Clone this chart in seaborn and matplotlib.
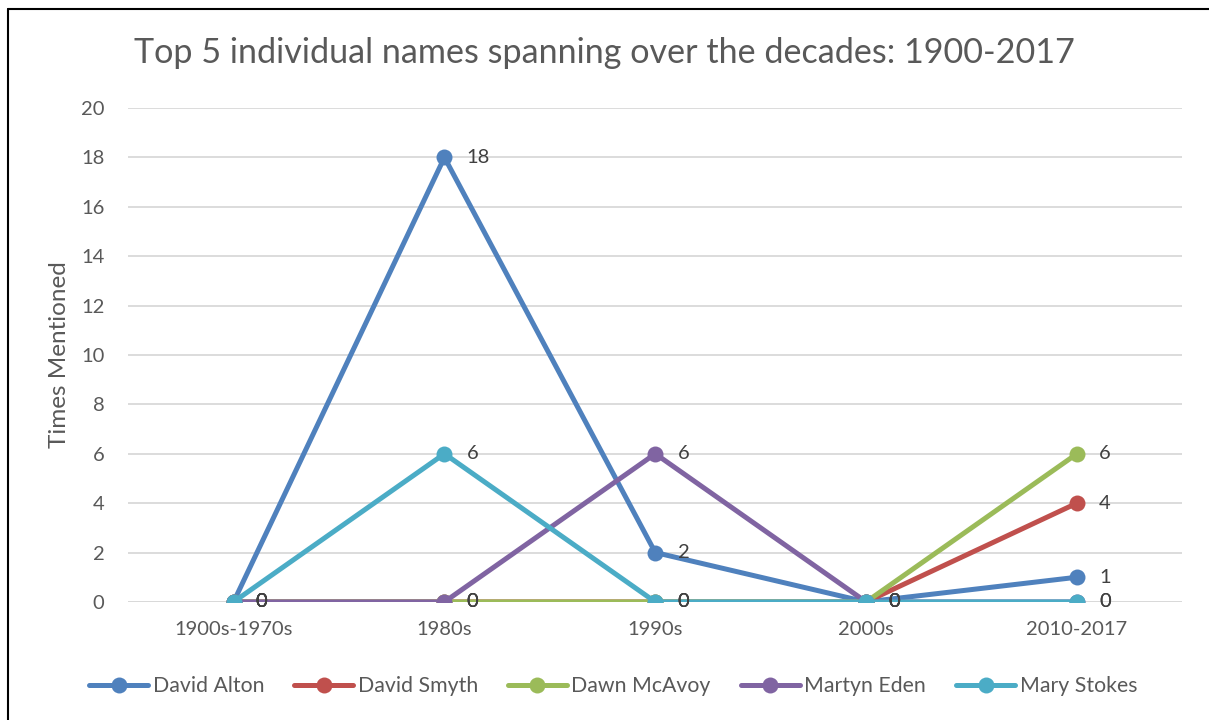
import pandas as pd
import seaborn as sns
import matplotlib.pyplot as plt
from matplotlib.lines import Line2D

# Chart data
decades = ['1900s-1970s', '1980s', '1990s', '2000s', '2010-2017']
names = ['David Alton', 'David Smyth', 'Dawn McAvoy', 'Martyn Eden', 'Mary Stokes']
david_alton = [0, 18, 2, 0, 1]
david_smyth = [0, 0, 0, 0, 4]
dawn_mcavoy = [0, 0, 0, 0, 6]
martyn_eden = [0, 0, 6, 0, 0]
mary_stokes = [0, 6, 0, 0, 0]

colors = ['#4F81BD', '#C0504D', '#9BBB59', '#8064A2', '#4BACC6']
text_grey = '#595959'

series = [david_alton, david_smyth, dawn_mcavoy, martyn_eden, mary_stokes]
rows = []
for name, vals in zip(names, series):
    for dec, v in zip(decades, vals):
        rows.append({'Decade': dec, 'Name': name, 'Times Mentioned': v})
df = pd.DataFrame(rows)

sns.set_style('white')
plt.rcParams['font.family'] = ['Lato', 'DejaVu Sans']

fig = plt.figure(figsize=(12.09, 7.2), dpi=100)
ax = fig.add_axes([0.106, 0.164, 0.872, 0.686])

lw = 3.6
ms = 11.5
sns.lineplot(data=df, x='Decade', y='Times Mentioned', hue='Name',
             hue_order=names, palette=colors, sort=False,
             marker='o', markersize=ms, markeredgewidth=0,
             linewidth=lw, legend=False, ax=ax)

# data labels
for name, vals in zip(names, series):
    for i, v in enumerate(vals):
        ax.annotate(str(v), (i, v), xytext=(16, 0), textcoords='offset points',
                    va='center', ha='left', fontsize=14.5, color='#404040')

ax.set_xlim(-0.5, len(decades) - 0.5)
ax.set_ylim(0, 20)
ax.set_yticks(range(0, 21, 2))
ax.yaxis.grid(True, color='#D9D9D9', linewidth=1.3)
ax.set_axisbelow(True)
for s in ax.spines.values():
    s.set_visible(False)
ax.axhline(0, color='#D9D9D9', linewidth=1.3, zorder=0)
ax.tick_params(axis='both', length=0, labelsize=14.5, labelcolor=text_grey)
ax.tick_params(axis='y', pad=17)
ax.tick_params(axis='x', pad=14)
ax.set_xlabel('')
ax.set_ylabel('Times Mentioned', fontsize=17.5, color=text_grey, labelpad=8)

fig.text(0.5, 0.927, 'Top 5 individual names spanning over the decades: 1900-2017',
         ha='center', va='center', fontsize=24.6, color=text_grey)

handles = [Line2D([0], [0], color=c, linewidth=lw, marker='o', markersize=ms,
                  markeredgewidth=0, solid_capstyle='round') for c in colors]
fig.legend(handles, names, loc='center', bbox_to_anchor=(0.507, 0.047), ncol=5,
           frameon=False, fontsize=15.3, handlelength=2.8, handletextpad=0.2,
           columnspacing=1.4, labelcolor=text_grey)

# chart border (left and top edges visible in the reference)
fig.add_artist(Line2D([0.0065, 0.0065], [0, 0.988], color='black', linewidth=1.5,
                      transform=fig.transFigure))
fig.add_artist(Line2D([0.0065, 1.0], [0.988, 0.988], color='black', linewidth=1.5,
                      transform=fig.transFigure))

fig.savefig('out.png', dpi=100)
